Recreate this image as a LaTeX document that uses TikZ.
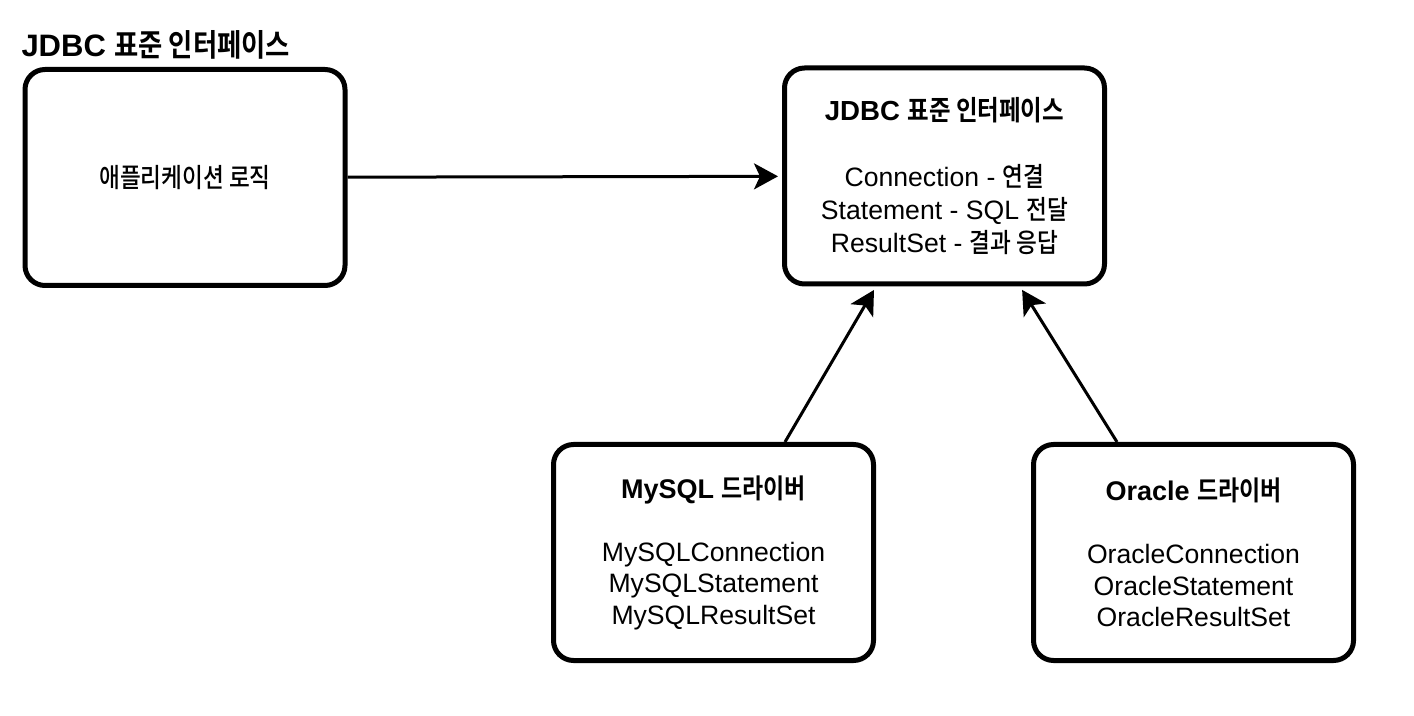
\documentclass[tikz,border=0pt]{standalone}
\usepackage{fontspec}
\setmainfont{Liberation Sans}
\newfontfamily\kr{Noto Sans CJK KR Medium}[FakeStretch=0.85,BoldFont={Noto Sans CJK KR Bold}]
\usetikzlibrary{arrows.meta}
\begin{document}
\begin{tikzpicture}[x=0.5pt, y=-0.5pt, shorten >=2pt, line width=1.5pt, >={Stealth[length=12pt,width=13pt,inset=3pt]},
  box node/.style={draw,rounded corners=10pt,line width=2.5pt,minimum width=160pt,minimum height=108pt,
    align=center,font=\fontsize{13.3}{16.5}\selectfont},
  driver node/.style={box node,font=\fontsize{13.3}{15.75}\selectfont}]
\useasboundingbox (0,0) rectangle (1414,716);
\node [anchor=west,font=\fontsize{15.5}{17}\selectfont\bfseries,inner sep=0pt](title) at (20,45) {JDBC {\kr 표준 인터페이스}};
\node [box node] (app) at (185,177.5) {{\kr 애플리케이션 로직}};
\node [box node] (jdbc) at (944.5,176) {{\fontsize{13.8}{16.5}\selectfont\bfseries JDBC {\kr 표준 인터페이스}}\\[16.5pt]Connection - {\kr 연결}\\Statement - SQL {\kr 전달}\\ResultSet - {\kr 결과 응답}};
\begin{scope}[every node/.style={driver node}]
\node (mysql) at (713.5,552.5) {{\fontsize{13.5}{15.75}\selectfont\bfseries MySQL {\kr 드라이버}}\\[15.75pt]MySQLConnection\\MySQLStatement\\MySQLResultSet};
\node (oracle) at (1193.5,552.5) {{\fontsize{13.5}{15.75}\selectfont\bfseries Oracle {\kr 드라이버}}\\[15.75pt]OracleConnection\\OracleStatement\\OracleResultSet};
\end{scope}
\path [->]
	(app) edge (jdbc)
	([xshift=35.75pt]mysql.north) edge ([xshift=-34.25pt]jdbc.south)
	([xshift=-38.25pt]oracle.north) edge ([xshift=37.75pt]jdbc.south)
	;
\end{tikzpicture}
\end{document}
